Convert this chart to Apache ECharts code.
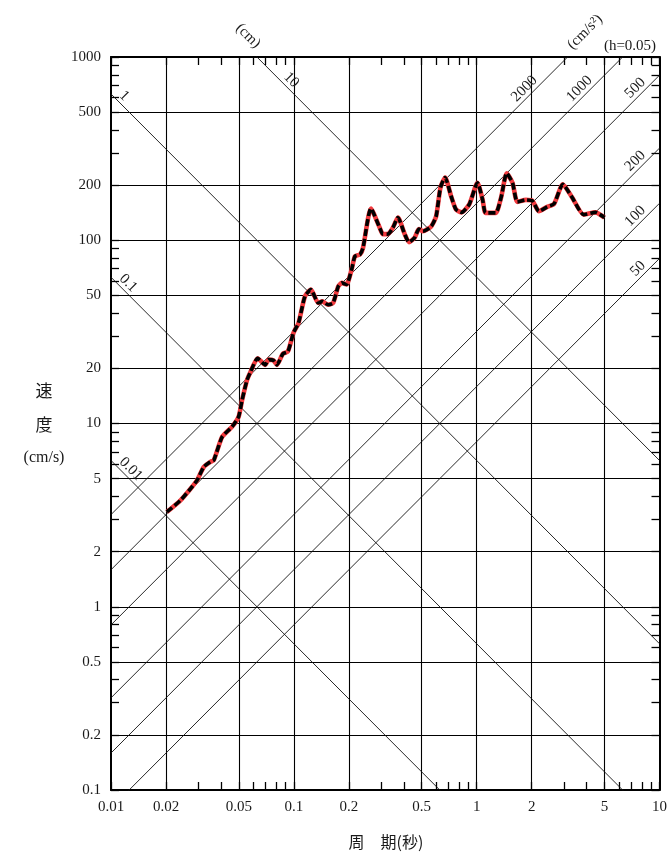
<!DOCTYPE html>
<html>
<head>
<meta charset="utf-8">
<script src="https://cdn.jsdelivr.net/npm/echarts@6/dist/echarts.min.js"></script>
<style>
  html, body { margin: 0; padding: 0; background: #fff; }
  #chart { width: 670px; height: 855px; }
</style>
</head>
<body>
<div id="chart"></div>
<script>
// Pseudo-velocity response spectrum, damping h = 0.05
const periods = [
  0.0202, 0.0240, 0.0273, 0.0296, 0.0322, 0.0350, 0.0365, 0.0406, 0.0460, 0.0499,
  0.0521, 0.0555, 0.0578, 0.0634, 0.0698, 0.0727, 0.0774, 0.0808, 0.0871, 0.0928,
  0.0995, 0.106, 0.115, 0.124, 0.136, 0.143, 0.154, 0.164, 0.175, 0.183,
  0.194, 0.207, 0.216, 0.230, 0.239, 0.264, 0.295, 0.307, 0.327, 0.348,
  0.371, 0.404, 0.426, 0.457, 0.483, 0.508, 0.564, 0.600, 0.634, 0.672,
  0.725, 0.771, 0.828, 0.911, 1.01, 1.077, 1.12, 1.27, 1.36, 1.46,
  1.57, 1.67, 1.86, 2.02, 2.19, 2.43, 2.65, 2.96, 3.33, 3.85,
  4.46, 5.0
];
const velocities = [
  3.29, 3.81, 4.42, 4.91, 5.80, 6.18, 6.31, 8.47, 9.61, 10.9,
  13.4, 17.3, 19.0, 22.7, 20.9, 22.3, 22.1, 20.9, 24.0, 24.7,
  31.2, 35.3, 49.4, 53.8, 45.5, 46.4, 44.5, 45.5, 56.0, 58.5,
  57.3, 69.2, 81.8, 83.6, 90.9, 149, 117, 108, 108, 117,
  133, 108, 97.6, 103, 115, 112, 119, 135, 194, 220,
  174, 147, 142, 157, 206, 167, 141, 141, 171, 232,
  206, 162, 166, 164, 144, 152, 158, 202, 171, 138,
  142, 133
];

// Tripartite guide lines
const dispLines = [0.01, 0.1, 1, 10];                 // displacement (cm)
const accLines = [50, 100, 200, 500, 1000, 2000];     // acceleration (cm/s^2)

// Axis ticks and labels
const xLabels = [0.01, 0.02, 0.05, 0.1, 0.2, 0.5, 1, 2, 5, 10];
const xGrid = [0.02, 0.05, 0.1, 0.2, 0.5, 1, 2, 5];
const xMinor = [0.03, 0.04, 0.06, 0.07, 0.08, 0.09, 0.3, 0.4, 0.6, 0.7, 0.8, 0.9, 3, 4, 6, 7, 8, 9];
const yLabels = [0.1, 0.2, 0.5, 1, 2, 5, 10, 20, 50, 100, 200, 500, 1000];
const yGrid = [0.2, 0.5, 1, 2, 5, 10, 20, 50, 100, 200, 500];
const yMinor = [0.3, 0.4, 0.6, 0.7, 0.8, 0.9, 3, 4, 6, 7, 8, 9, 30, 40, 60, 70, 80, 90, 300, 400, 600, 700, 800, 900];

const X_MIN = 0.01, X_MAX = 10, Y_MIN = 0.1, Y_MAX = 1000;
const TWO_PI = 2 * Math.PI;
const SERIF = '"Liberation Serif", "DejaVu Serif", serif';
const CJK = '"Noto Sans CJK JP", "Noto Sans CJK SC", sans-serif';
const INK = '#1a1a1a';

const chart = echarts.init(document.getElementById('chart'), null, { renderer: 'canvas' });

const xTicks = xLabels.concat(xMinor).sort((a, b) => a - b);
const yTicks = yLabels.concat(yMinor).sort((a, b) => a - b);

function frameAxis(dim, position, ticks, labels, showLabels) {
  return {
    type: 'log', logBase: 10, position,
    min: dim === 'x' ? X_MIN : Y_MIN,
    max: dim === 'x' ? X_MAX : Y_MAX,
    axisLine: { show: true, onZero: false, lineStyle: { color: '#000', width: 2 } },
    axisTick: { show: true, inside: true, length: 8, customValues: ticks,
      lineStyle: { color: '#000', width: 1.3 } },
    axisLabel: { show: showLabels, customValues: labels, margin: 10,
      fontFamily: SERIF, fontSize: 15, color: INK,
      formatter: v => String(+Number(v).toPrecision(6)) },
    splitLine: { show: false },
    minorTick: { show: false }, minorSplitLine: { show: false }
  };
}
function gridAxis(dim, position, values) {
  return {
    type: 'log', logBase: 10, position,
    min: dim === 'x' ? X_MIN : Y_MIN,
    max: dim === 'x' ? X_MAX : Y_MAX,
    axisLine: { show: false },
    axisTick: { show: false, customValues: values },
    axisLabel: { show: false },
    splitLine: { show: true, lineStyle: { color: '#000', width: 1.1 } }
  };
}

const guideStyle = { color: '#111', width: 0.9 };
const series = [];
dispLines.forEach(D => {
  series.push({
    type: 'line', silent: true, symbol: 'none', clip: true, z: 1,
    lineStyle: guideStyle,
    data: [[X_MIN, TWO_PI * D / X_MIN], [X_MAX, TWO_PI * D / X_MAX]]
  });
});
accLines.forEach(A => {
  series.push({
    type: 'line', silent: true, symbol: 'none', clip: true, z: 1,
    lineStyle: guideStyle,
    data: [[X_MIN, A * X_MIN / TWO_PI], [X_MAX, A * X_MAX / TWO_PI]]
  });
});
const curve = periods.map((t, i) => [t, velocities[i]]);
series.push({
  type: 'line', silent: true, symbol: 'none', smooth: 0.2, z: 5,
  lineStyle: { color: '#f23a3e', width: 4.6 },
  data: curve
});
series.push({
  type: 'line', silent: true, symbol: 'none', smooth: 0.2, z: 6,
  lineStyle: { color: '#000', width: 3.6, type: [7, 3] },
  data: curve
});

chart.setOption({
  animation: false,
  backgroundColor: '#fff',
  grid: { left: 111, right: 8, top: 57, bottom: 65, containLabel: false },
  xAxis: [
    frameAxis('x', 'bottom', xTicks, xLabels, true),
    frameAxis('x', 'top', xTicks, xLabels, false),
    gridAxis('x', 'bottom', xGrid)
  ],
  yAxis: [
    frameAxis('y', 'left', yTicks, yLabels, true),
    frameAxis('y', 'right', yTicks, yLabels, false),
    gridAxis('y', 'left', yGrid)
  ],
  series
});

// Rotated value labels on the guide lines, placed where each line meets the frame
const S = Math.SQRT1_2;
const graphics = [];
function txt(x, y, text, opts) {
  return Object.assign({
    type: 'text', x, y, silent: true, z: 10,
    style: Object.assign({ text, fill: INK, font: '15px ' + SERIF,
      textAlign: 'center', textVerticalAlign: 'middle' }, opts.style || {})
  }, opts.el || {});
}
dispLines.forEach(D => {
  let T0 = X_MIN, V0 = TWO_PI * D / X_MIN, top = false;
  if (V0 > Y_MAX) { V0 = Y_MAX; T0 = TWO_PI * D / Y_MAX; top = true; }
  const p = chart.convertToPixel({ gridIndex: 0 }, [T0, V0]);
  const s = top ? 33 : 7, n = 8;
  graphics.push(txt(p[0] + (s + n) * S, p[1] + (s - n) * S, String(D),
    { el: { rotation: -Math.PI / 4 }, style: { textAlign: 'left' } }));
});
accLines.forEach(A => {
  let T0 = X_MAX, V0 = A * X_MAX / TWO_PI, top = false;
  if (V0 > Y_MAX) { V0 = Y_MAX; T0 = TWO_PI * Y_MAX / A; top = true; }
  const p = chart.convertToPixel({ gridIndex: 0 }, [T0, V0]);
  const s = top ? 38 : 15, n = 8;
  graphics.push(txt(p[0] - (s + n) * S, p[1] + (s - n) * S, String(A),
    { el: { rotation: Math.PI / 4 }, style: { textAlign: 'right' } }));
});

// Scale names and axis titles
graphics.push(txt(248, 36, '(cm)', { el: { rotation: -Math.PI / 4 } }));
graphics.push(txt(585, 32, '(cm/s²)', { el: { rotation: Math.PI / 4 } }));
graphics.push(txt(630, 46, '(h=0.05)', {}));
graphics.push(txt(44, 391, '速', { style: { font: '17px ' + CJK } }));
graphics.push(txt(44, 425, '度', { style: { font: '17px ' + CJK } }));
graphics.push(txt(44, 458, '(cm/s)', { style: { font: '16px ' + SERIF } }));
graphics.push(txt(386, 842, '周　期(秒)', { style: { font: '16px ' + CJK } }));

chart.setOption({ graphic: graphics });
</script>
</body>
</html>
